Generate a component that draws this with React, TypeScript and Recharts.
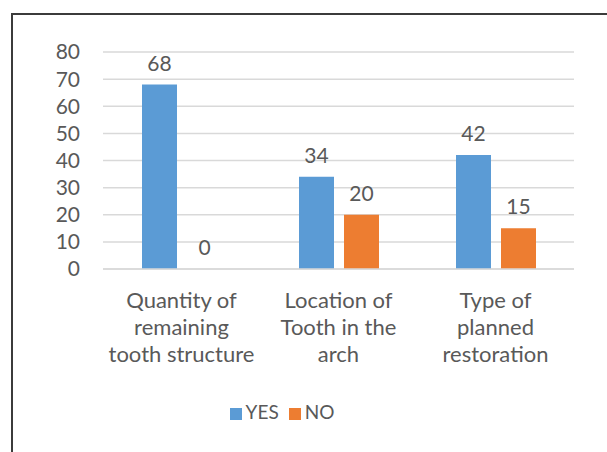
import React from "react";
import { BarChart, Bar, XAxis, YAxis, CartesianGrid, Legend, LabelList } from "recharts";

const categories = [
  "Quantity of remaining tooth structure",
  "Location of Tooth in the arch",
  "Type of planned restoration",
];
const categoryLines = [
  ["Quantity of", "remaining", "tooth structure"],
  ["Location of", "Tooth in the", "arch"],
  ["Type of", "planned", "restoration"],
];
const yesValues = [68, 34, 42];
const noValues = [0, 20, 15];
const yTicks = [0, 10, 20, 30, 40, 50, 60, 70, 80];
const seriesOrder = ["YES", "NO"];

const data = categories.map((c, i) => ({ name: c, YES: yesValues[i], NO: noValues[i] }));

const TEXT = "#595959";

const XTick = (props: any) => {
  const { x, y, payload } = props;
  const idx = categories.indexOf(payload.value);
  const lines = idx >= 0 ? categoryLines[idx] : [String(payload.value)];
  return (
    <g>
      {lines.map((l, i) => (
        <text key={i} x={x} y={y + 39 + i * 27} textAnchor="middle" fill={TEXT} fontSize={22}>
          {l}
        </text>
      ))}
    </g>
  );
};

export default function App() {
  return (
    <div
      style={{
        position: "absolute",
        left: 0,
        top: 0,
        width: 607,
        height: 452,
        background: "#fff",
        overflow: "hidden",
        fontFamily: "Lato, 'Open Sans', sans-serif",
      }}
    >
      <div
        style={{
          position: "absolute",
          left: 11,
          top: 13,
          width: 800,
          height: 800,
          borderLeft: "2px solid #3b3b3b",
          borderTop: "2px solid #3b3b3b",
        }}
      />
      <div style={{ position: "absolute", left: 0, top: 0 }}>
        <BarChart
          width={607}
          height={452}
          data={data}
          margin={{ top: 52, right: 33, left: 0, bottom: 0 }}
          barGap={10}
        >
          <CartesianGrid vertical={false} stroke="#d9d9d9" strokeWidth={1.5} />
          <XAxis
            dataKey="name"
            height={183}
            tickLine={false}
            tickSize={0}
            tickMargin={0}
            axisLine={{ stroke: "#d9d9d9", strokeWidth: 1.5 }}
            tick={<XTick />}
            interval={0}
          />
          <YAxis
            width={103}
            domain={[0, 80]}
            ticks={yTicks}
            interval={0}
            tickLine={false}
            axisLine={false}
            tickSize={0}
            tickMargin={23}
            tick={{ fill: TEXT, fontSize: 21 }}
          />
          <Legend
            verticalAlign="middle"
            align="center"
            layout="horizontal"
            iconType="square"
            iconSize={12}
            itemSorter={((item: any) => seriesOrder.indexOf(item.value)) as any}
            wrapperStyle={{ top: 400, fontSize: 19 }}
            formatter={(v: any) => <span style={{ color: TEXT }}>{v}</span>}
          />
          <Bar dataKey="YES" fill="#5B9BD5" barSize={35} minPointSize={0.01} isAnimationActive={false}>
            <LabelList dataKey="YES" position="top" offset={14} fill={TEXT} fontSize={21} />
          </Bar>
          <Bar dataKey="NO" fill="#ED7D31" barSize={35} minPointSize={0.01} isAnimationActive={false}>
            <LabelList dataKey="NO" position="top" offset={14} fill={TEXT} fontSize={21} />
          </Bar>
        </BarChart>
      </div>
    </div>
  );
}
